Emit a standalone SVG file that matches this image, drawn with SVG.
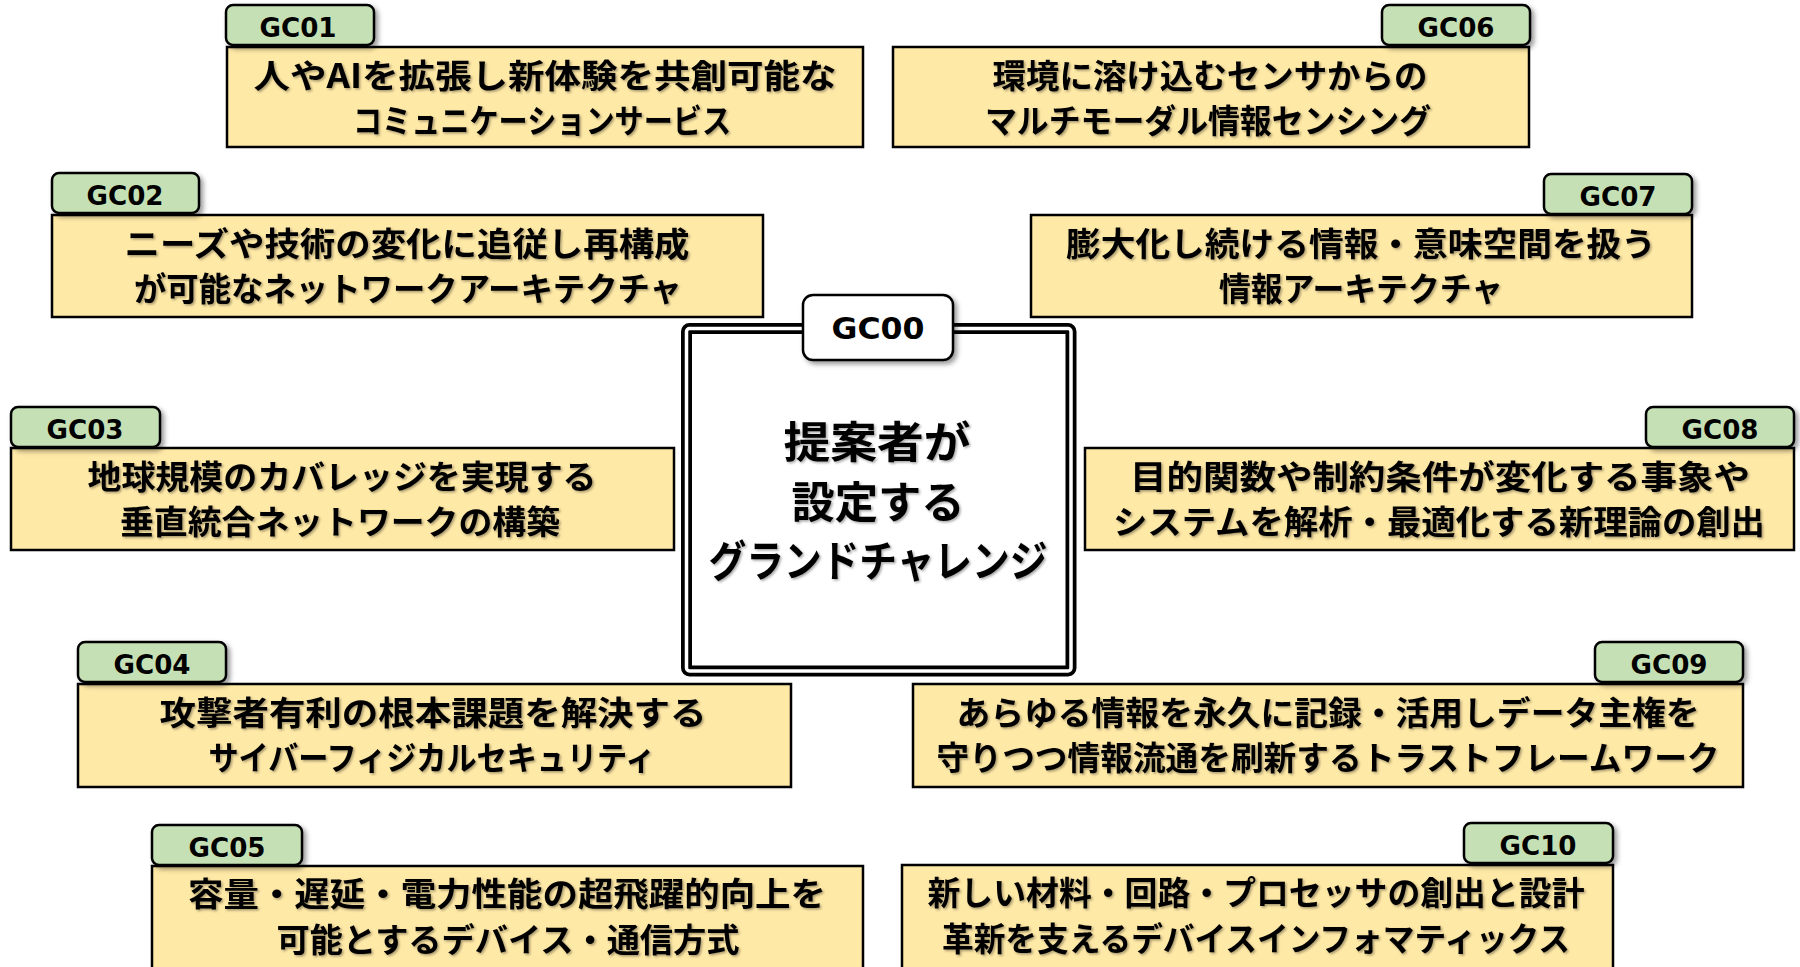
<svg xmlns="http://www.w3.org/2000/svg" width="1800" height="967" viewBox="0 0 1800 967">
<defs>
<filter id="tagShadow" x="-10%" y="-20%" width="130%" height="160%">
<feDropShadow dx="3" dy="3" stdDeviation="2.5" flood-color="#000" flood-opacity="0.4"/>
</filter>
<filter id="txtShadow" x="-5%" y="-20%" width="110%" height="150%">
<feDropShadow dx="1.5" dy="1.5" stdDeviation="1" flood-color="#000" flood-opacity="0.35"/>
</filter>
</defs>
<style>
.box{fill:#FFE9A7;stroke:#000;stroke-width:2.5}
.tag{fill:#C5E0B4;stroke:#000;stroke-width:2.5;filter:url(#tagShadow)}
.tagc{fill:#fff;stroke:#000;stroke-width:2.5;filter:url(#tagShadow)}
.tt{font-family:"DejaVu Sans","Liberation Sans",sans-serif;font-weight:bold;font-size:26px;fill:#000;text-anchor:middle}
.bt{font-family:"Noto Sans CJK JP",sans-serif;font-weight:bold;font-size:33px;fill:#000;text-anchor:middle;filter:url(#txtShadow)}
.ct{font-family:"Noto Sans CJK JP",sans-serif;font-weight:bold;font-size:43px;fill:#000;text-anchor:middle;filter:url(#txtShadow)}
</style>
<rect width="1800" height="967" fill="#fff"/>
<g id="connectors"/>

<g id="GC00">
<rect x="686.5" y="328.5" width="384.5" height="342.5" rx="3" fill="#fff" stroke="#000" stroke-width="11"/>
<rect x="686.5" y="328.5" width="384.5" height="342.5" rx="3" fill="none" stroke="#fff" stroke-width="3.5"/>
<rect class="tagc" x="803" y="295" width="150" height="65" rx="10"/>
<text class="tt" x="878" y="339" textLength="93" lengthAdjust="spacingAndGlyphs" style="font-size:31px">GC00</text>
<text class="ct" x="877" y="458" textLength="187" lengthAdjust="spacingAndGlyphs">提案者が</text>
<text class="ct" x="878" y="518" textLength="173" lengthAdjust="spacingAndGlyphs">設定する</text>
<text class="ct" x="878" y="577" textLength="339" lengthAdjust="spacingAndGlyphs">グランドチャレンジ</text>
</g>

<g id="GC01">
<rect class="box" x="227" y="47" width="636" height="100"/>
<rect class="tag" x="226" y="5" width="148" height="40" rx="7"/>
<text class="tt" x="298" y="37" textLength="77" lengthAdjust="spacingAndGlyphs">GC01</text>
<text class="bt" x="545" y="88" textLength="583" lengthAdjust="spacingAndGlyphs">人やAIを拡張し新体験を共創可能な</text>
<text class="bt" x="542" y="133" textLength="378" lengthAdjust="spacingAndGlyphs">コミュニケーションサービス</text>
</g>

<g id="GC06">
<rect class="box" x="893" y="47" width="636" height="100"/>
<rect class="tag" x="1382" y="5" width="148" height="40" rx="7"/>
<text class="tt" x="1456" y="37" textLength="77" lengthAdjust="spacingAndGlyphs">GC06</text>
<text class="bt" x="1210" y="88" textLength="435" lengthAdjust="spacingAndGlyphs">環境に溶け込むセンサからの</text>
<text class="bt" x="1208" y="133" textLength="446" lengthAdjust="spacingAndGlyphs">マルチモーダル情報センシング</text>
</g>

<g id="GC02">
<rect class="box" x="52" y="215" width="711" height="102"/>
<rect class="tag" x="52" y="173" width="147" height="40" rx="7"/>
<text class="tt" x="125" y="205" textLength="77" lengthAdjust="spacingAndGlyphs">GC02</text>
<text class="bt" x="407" y="256" textLength="565" lengthAdjust="spacingAndGlyphs">ニーズや技術の変化に追従し再構成</text>
<text class="bt" x="408" y="301" textLength="548" lengthAdjust="spacingAndGlyphs">が可能なネットワークアーキテクチャ</text>
</g>

<g id="GC07">
<rect class="box" x="1031" y="215" width="661" height="102"/>
<rect class="tag" x="1544" y="174" width="148" height="40" rx="7"/>
<text class="tt" x="1618" y="206" textLength="77" lengthAdjust="spacingAndGlyphs">GC07</text>
<text class="bt" x="1361" y="256" textLength="590" lengthAdjust="spacingAndGlyphs">膨大化し続ける情報・意味空間を扱う</text>
<text class="bt" x="1361" y="301" textLength="284" lengthAdjust="spacingAndGlyphs">情報アーキテクチャ</text>
</g>

<g id="GC03">
<rect class="box" x="11" y="448" width="663" height="102"/>
<rect class="tag" x="11" y="407" width="149" height="40" rx="7"/>
<text class="tt" x="85" y="439" textLength="77" lengthAdjust="spacingAndGlyphs">GC03</text>
<text class="bt" x="342" y="489" textLength="509" lengthAdjust="spacingAndGlyphs">地球規模のカバレッジを実現する</text>
<text class="bt" x="340" y="534" textLength="440" lengthAdjust="spacingAndGlyphs">垂直統合ネットワークの構築</text>
</g>

<g id="GC08">
<rect class="box" x="1085" y="448" width="709" height="102"/>
<rect class="tag" x="1646" y="407" width="148" height="40" rx="7"/>
<text class="tt" x="1720" y="439" textLength="77" lengthAdjust="spacingAndGlyphs">GC08</text>
<text class="bt" x="1440" y="489" textLength="620" lengthAdjust="spacingAndGlyphs">目的関数や制約条件が変化する事象や</text>
<text class="bt" x="1439" y="534" textLength="652" lengthAdjust="spacingAndGlyphs">システムを解析・最適化する新理論の創出</text>
</g>

<g id="GC04">
<rect class="box" x="78" y="684" width="713" height="103"/>
<rect class="tag" x="78" y="642" width="148" height="40" rx="7"/>
<text class="tt" x="152" y="674" textLength="77" lengthAdjust="spacingAndGlyphs">GC04</text>
<text class="bt" x="433" y="725" textLength="547" lengthAdjust="spacingAndGlyphs">攻撃者有利の根本課題を解決する</text>
<text class="bt" x="432" y="770" textLength="447" lengthAdjust="spacingAndGlyphs">サイバーフィジカルセキュリティ</text>
</g>

<g id="GC09">
<rect class="box" x="913" y="684" width="830" height="103"/>
<rect class="tag" x="1595" y="642" width="148" height="40" rx="7"/>
<text class="tt" x="1669" y="674" textLength="77" lengthAdjust="spacingAndGlyphs">GC09</text>
<text class="bt" x="1328" y="725" textLength="743" lengthAdjust="spacingAndGlyphs">あらゆる情報を永久に記録・活用しデータ主権を</text>
<text class="bt" x="1328" y="770" textLength="783" lengthAdjust="spacingAndGlyphs">守りつつ情報流通を刷新するトラストフレームワーク</text>
</g>

<g id="GC05">
<rect class="box" x="152" y="866" width="711" height="130"/>
<rect class="tag" x="152" y="825" width="150" height="40" rx="7"/>
<text class="tt" x="227" y="857" textLength="77" lengthAdjust="spacingAndGlyphs">GC05</text>
<text class="bt" x="507" y="906" textLength="638" lengthAdjust="spacingAndGlyphs">容量・遅延・電力性能の超飛躍的向上を</text>
<text class="bt" x="508" y="952" textLength="463" lengthAdjust="spacingAndGlyphs">可能とするデバイス・通信方式</text>
</g>

<g id="GC10">
<rect class="box" x="902" y="865" width="711" height="130"/>
<rect class="tag" x="1464" y="823" width="149" height="40" rx="7"/>
<text class="tt" x="1538" y="855" textLength="77" lengthAdjust="spacingAndGlyphs">GC10</text>
<text class="bt" x="1256" y="905" textLength="657" lengthAdjust="spacingAndGlyphs">新しい材料・回路・プロセッサの創出と設計</text>
<text class="bt" x="1256" y="951" textLength="628" lengthAdjust="spacingAndGlyphs">革新を支えるデバイスインフォマティックス</text>
</g>
</svg>
